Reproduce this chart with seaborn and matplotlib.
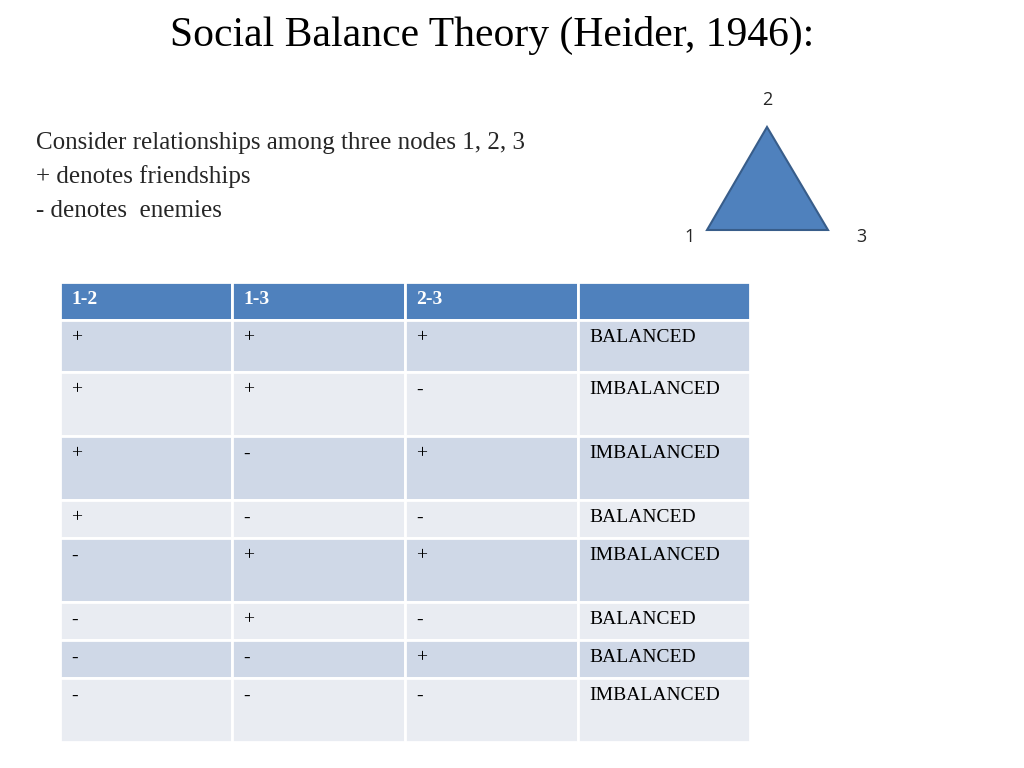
import matplotlib
matplotlib.use("Agg")
import matplotlib.pyplot as plt
import seaborn as sns
from matplotlib.patches import Rectangle, Polygon

sns.set_theme(style="white")
plt.rcParams["font.family"] = ["Liberation Serif", "DejaVu Serif"]

title = "Social Balance Theory (Heider, 1946):"
intro_lines = [
    "Consider relationships among three nodes 1, 2, 3",
    "+ denotes friendships",
    "- denotes  enemies",
]
headers = ["1-2", "1-3", "2-3", ""]
col_12 = ["+", "+", "+", "+", "-", "-", "-", "-"]
col_13 = ["+", "+", "-", "-", "+", "+", "-", "-"]
col_23 = ["+", "-", "+", "-", "+", "-", "+", "-"]
status = ["BALANCED", "IMBALANCED", "IMBALANCED", "BALANCED",
          "IMBALANCED", "BALANCED", "BALANCED", "IMBALANCED"]

# layout (pixel coordinates)
col_edges = [60, 232, 405, 578, 750]
row_edges = [282, 320, 372, 436, 500, 538, 602, 640, 678, 742]
blue = "#4f81bd"
fills = ["#cfd8e7", "#e9ecf2"]

fig = plt.figure(figsize=(10.24, 7.68), dpi=100)
ax = fig.add_axes([0, 0, 1, 1])
ax.set_xlim(0, 1024)
ax.set_ylim(768, 0)
ax.axis("off")

ax.text(492, 35, title, ha="center", va="center", fontsize=30, color="black")
for i, line in enumerate(intro_lines):
    ax.text(36, 143 + 34 * i, line, ha="left", va="center", fontsize=18)

# triangle
tri = Polygon([(707, 230), (767, 127), (828, 230)], closed=True,
              facecolor=blue, edgecolor="#385d8a", linewidth=1.5)
ax.add_patch(tri)
for lbl, (x, y) in zip(["2", "1", "3"], [(767, 100), (690, 237), (861, 237)]):
    ax.text(x, y, lbl, ha="center", va="center", fontsize=13,
            family=["Open Sans", "DejaVu Sans"])

# table
rows = [headers] + [list(r) for r in zip(col_12, col_13, col_23, status)]
for r, row in enumerate(rows):
    y0, y1 = row_edges[r], row_edges[r + 1]
    color = blue if r == 0 else fills[(r - 1) % 2]
    for c, val in enumerate(row):
        x0, x1 = col_edges[c], col_edges[c + 1]
        ax.add_patch(Rectangle((x0, y0), x1 - x0, y1 - y0, facecolor=color,
                               edgecolor="white", linewidth=2))
        ax.text(x0 + 11, y0 + 18, val, ha="left", va="center", fontsize=14,
                color="white" if r == 0 else "black",
                fontweight="bold" if r == 0 else "normal")

fig.savefig("out.png", dpi=100)
